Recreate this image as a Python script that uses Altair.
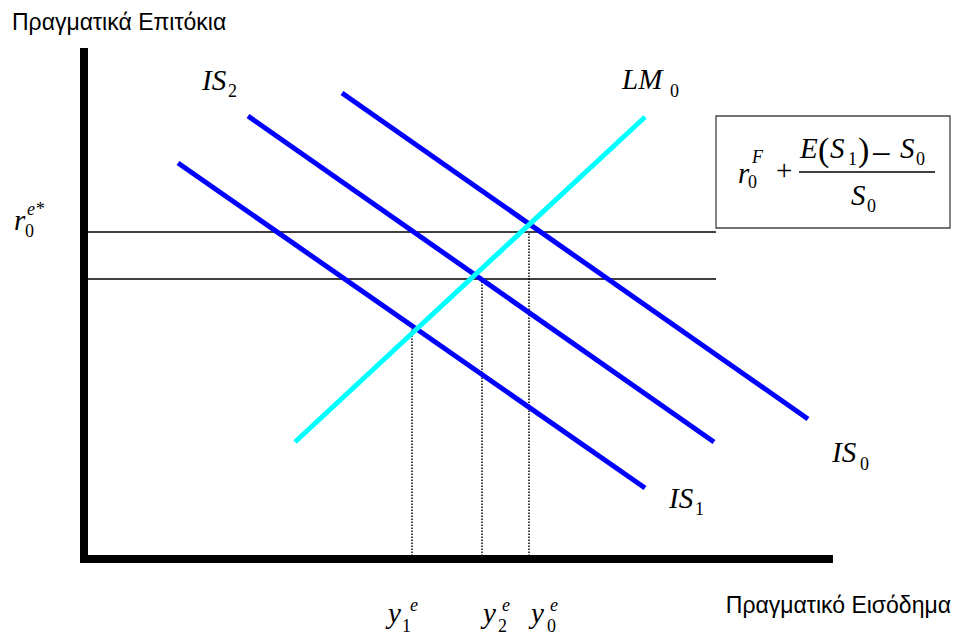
import altair as alt
import pandas as pd

# ---------------- data (model units) ----------------
# IS / LM curves: start and end points
curve_name = ["IS1", "IS1", "IS2", "IS2", "IS0", "IS0", "LM0", "LM0"]
curve_kind = ["IS", "IS", "IS", "IS", "IS", "IS", "LM", "LM"]
curve_x = [9.4, 56.1, 16.4, 63.0, 25.8, 72.4, 21.1, 56.1]
curve_y = [39.6, 7.1, 44.3, 11.7, 46.6, 14.0, 11.7, 44.2]

# interest-rate levels (horizontal lines)
rate_level = [32.7, 28.0]
rate_x_start = [0.4, 0.4]
rate_x_end = [63.2, 63.2]

# equilibrium incomes (dotted drop lines)
eq_income = [32.8, 39.8, 44.5]
eq_rate = [23.1, 28.0, 32.7]

# axes extents
axis_x_max = 74.9
axis_y_max = 51.1

# formula box and fraction bar
box_x = [63.2]
box_x2 = [86.6]
box_y = [44.3]
box_y2 = [33.1]
frac_x = [71.5]
frac_x2 = [85.1]
frac_y = [38.7]

# math-style tokens: text, x, y (baseline), kind
tok_text = ["IS", "2", "LM", "0", "IS", "0", "IS", "1",
            "r", "0", "e*",
            "y", "1", "e", "y", "2", "e", "y", "0", "e",
            "r", "0", "F", "+",
            "E", "(", "S", "1", ")", "\u2212", "S", "0",
            "S", "0"]
tok_x = [11.8, 14.4, 53.8, 58.6, 74.8, 77.6, 58.5, 61.1,
         -7.0, -5.9, -5.7,
         30.4, 31.8, 32.6, 39.9, 41.4, 41.8, 44.7, 46.3, 46.6,
         65.4, 66.4, 66.8, 69.2,
         71.6, 73.4, 74.6, 76.4, 77.4, 78.7, 81.6, 83.2,
         76.7, 78.3]
tok_y = [46.9, 46.2, 47.0, 46.2, 9.7, 8.9, 5.1, 4.4,
         32.9, 32.2, 34.4,
         -6.4, -7.3, -5.2, -6.4, -7.3, -5.2, -6.4, -7.3, -5.2,
         37.6, 37.1, 39.6, 37.9,
         40.1, 39.8, 40.1, 39.4, 39.8, 39.3, 40.1, 39.4,
         35.4, 34.7]
tok_kind = ["main", "sub", "main", "sub", "main", "sub", "main", "sub",
            "main", "sub", "sup",
            "main", "sub", "sup", "main", "sub", "sup", "main", "sub", "sup",
            "main", "sub", "sup", "up",
            "main", "paren", "main", "sub", "paren", "op", "main", "sub",
            "main", "sub"]

# axis titles
title_text = ["Πραγματικά Επιτόκια", "Πραγματικό Εισόδημα"]
title_x = [-7.2, 86.7]
title_y = [52.9, -5.4]
title_align = ["left", "right"]

# ---------------- chart ----------------
sx = alt.Scale(domain=[-7.6, 86.8], nice=False, zero=False)
sy = alt.Scale(domain=[-7.8, 55.1], nice=False, zero=False)

curves = pd.DataFrame({"curve": curve_name, "kind": curve_kind, "x": curve_x, "y": curve_y})
rates = pd.DataFrame({"r": rate_level, "x1": rate_x_start, "x2": rate_x_end})
eqs = pd.DataFrame({"x": eq_income, "r": eq_rate, "zero": [0.0] * len(eq_income)})
axes_v = pd.DataFrame({"x": [0.0], "y1": [-0.4], "y2": [axis_y_max]})
axes_h = pd.DataFrame({"y": [0.0], "x1": [-0.4], "x2": [axis_x_max]})
box = pd.DataFrame({"x": box_x, "x2": box_x2, "y": box_y, "y2": box_y2})
frac = pd.DataFrame({"x": frac_x, "x2": frac_x2, "y": frac_y})
toks = pd.DataFrame({"t": tok_text, "x": tok_x, "y": tok_y, "kind": tok_kind})
titles = pd.DataFrame({"t": title_text, "x": title_x, "y": title_y, "align": title_align})

X = lambda f: alt.X(f, type="quantitative", scale=sx, axis=None)
Y = lambda f: alt.Y(f, type="quantitative", scale=sy, axis=None)

curve_layer = alt.Chart(curves).mark_line(strokeWidth=5, strokeCap="butt").encode(
    x=X("x"), y=Y("y"), detail="curve:N",
    color=alt.Color("kind:N", scale=alt.Scale(domain=["IS", "LM"], range=["#0000FF", "#00FFFF"]), legend=None),
)

rate_layer = alt.Chart(rates).mark_rule(color="black", strokeWidth=1.5).encode(
    x=X("x1"), x2="x2", y=Y("r"))

eq_layer = alt.Chart(eqs).mark_rule(color="black", strokeWidth=1.5, strokeDash=[1.5, 1.5]).encode(
    x=X("x"), y=Y("zero"), y2="r")

axis_v_layer = alt.Chart(axes_v).mark_rule(color="black", strokeWidth=8).encode(
    x=X("x"), y=Y("y1"), y2="y2")
axis_h_layer = alt.Chart(axes_h).mark_rule(color="black", strokeWidth=8).encode(
    x=X("x1"), x2="x2", y=Y("y"))

box_layer = alt.Chart(box).mark_rect(fillOpacity=0, stroke="#444444", strokeWidth=1.3).encode(
    x=X("x"), x2="x2", y=Y("y"), y2="y2")
frac_layer = alt.Chart(frac).mark_rule(color="black", strokeWidth=1.5).encode(
    x=X("x"), x2="x2", y=Y("y"))

serif = "Liberation Serif, Times New Roman, serif"
sans = "Liberation Sans, Arial, sans-serif"

def tok_layer(kind, size, style, align="left"):
    return alt.Chart(toks).transform_filter(alt.datum.kind == kind).mark_text(
        align=align, baseline="alphabetic", font=serif, fontSize=size, fontStyle=style, color="black"
    ).encode(x=X("x"), y=Y("y"), text="t:N")

main_l = tok_layer("main", 29, "italic")
sub_l = tok_layer("sub", 18, "normal")
sup_l = tok_layer("sup", 18, "italic")
up_l = tok_layer("up", 29, "normal")
op_l = tok_layer("op", 36, "normal")
paren_l = tok_layer("paren", 34, "normal")

title_l = alt.Chart(titles).transform_filter(alt.datum.align == "left").mark_text(
    align="left", baseline="alphabetic", font=sans, fontSize=23, color="black"
).encode(x=X("x"), y=Y("y"), text="t:N")
title_r = alt.Chart(titles).transform_filter(alt.datum.align == "right").mark_text(
    align="right", baseline="alphabetic", font=sans, fontSize=23, color="black"
).encode(x=X("x"), y=Y("y"), text="t:N")

chart = alt.layer(
    rate_layer, eq_layer, curve_layer, axis_v_layer, axis_h_layer, box_layer, frac_layer,
    main_l, sub_l, sup_l, up_l, op_l, paren_l, title_l, title_r,
).properties(
    width=944, height=629, padding=0, autosize=alt.AutoSizeParams(type="none")
).configure_view(stroke=None)

chart.save("out.html", embed_options={"renderer": "svg", "actions": False})
